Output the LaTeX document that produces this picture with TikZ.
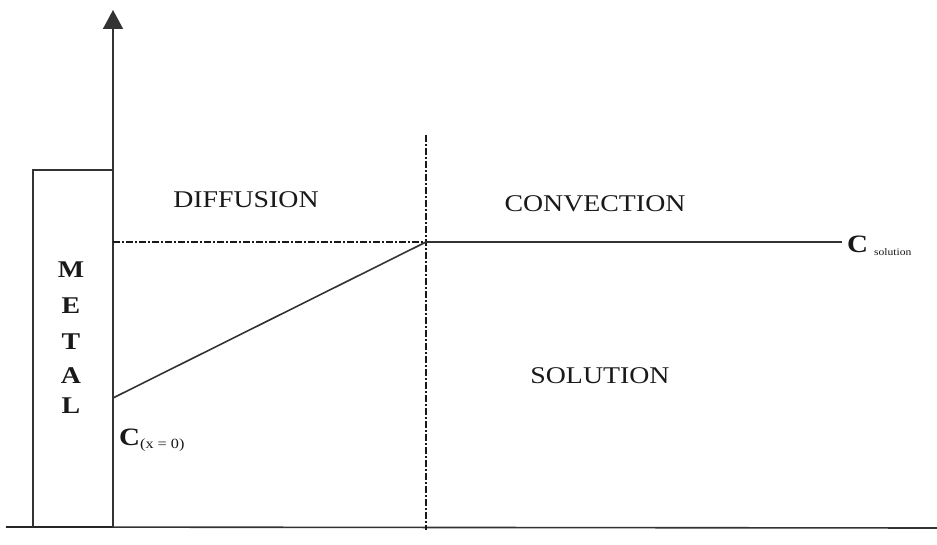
\documentclass[tikz,border=0pt]{standalone}
\usepackage{fontspec}
\setmainfont{Liberation Serif}[FakeStretch=1.16]
\usetikzlibrary{arrows.meta}
\begin{document}
\begin{tikzpicture}[x=1pt,y=-1pt,
  ln/.style={line width=1.6pt,draw=black!80},
  dd/.style={line width=2.2pt,draw=black!90,dash pattern=on 7pt off 2pt on 2pt off 2pt},
  region/.style={font=\fontsize{24}{28}\selectfont,text=black!90,inner sep=0pt},
  metal/.style={font=\bfseries\fontsize{24}{28}\selectfont,text=black!90,inner sep=0pt}]
\useasboundingbox (0,0) rectangle (937,545);
% coordinates
\coordinate (o) at (113,527);
\coordinate (top) at (113,10);
\coordinate (bl) at (6,527);
\coordinate (br) at (937,528);
\coordinate (mtl) at (33,170);
\coordinate (mtr) at (113,170);
\coordinate (mbl) at (33,527);
\coordinate (vt) at (426,135);
\coordinate (vb) at (426,530);
\coordinate (hl) at (113,242);
\coordinate (hm) at (426,242);
\coordinate (hr) at (842,242);
\coordinate (c0) at (113,398);
% axes and metal
\draw[ln] (bl) -- (br);
\draw[line width=2.4pt,draw=black!85] (bl) -- (o);
\draw[ln,-{Triangle[length=19pt,width=20pt]}] (o) -- (top);
\draw[ln] (mbl) -- (mtl) -- (mtr);
% dash-dot lines
\draw[dd] (vt) -- (vb);
\draw[dd] (hl) -- (hm);
\draw[ln] (hm) -- (hr);
\draw[ln] (c0) -- (hm);
% labels
\node[region] (diff) at (246,200) {DIFFUSION};
\node[region] (conv) at (595,204) {CONVECTION};
\node[region] (sol) at (600,376) {SOLUTION};
\node[metal] (m1) at (71,270) {M};
\node[metal] (m2) at (71,306) {E};
\node[metal] (m3) at (71,342) {T};
\node[metal] (m4) at (71,376) {A};
\node[metal] (m5) at (71,406) {L};
\node[anchor=base west,inner sep=0pt,text=black!90] (cx) at (119,445)
  {\bfseries\fontsize{25}{28}\selectfont C\mdseries\fontsize{14}{16}\selectfont\raisebox{-3pt}{(x = 0)}};
\node[anchor=base west,inner sep=0pt,text=black!90] (cs) at (847,253)
  {\bfseries\fontsize{25}{28}\selectfont C\mdseries\fontsize{10}{12}\selectfont\raisebox{-3pt}{\hspace{6pt}solution}};
\end{tikzpicture}
\end{document}
